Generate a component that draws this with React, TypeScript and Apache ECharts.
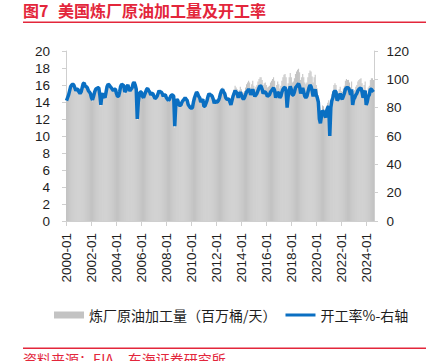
import React, { useEffect, useRef } from "react";
import * as echarts from "echarts";

const TITLE_NUM = "图7";
const TITLE_TEXT = "美国炼厂原油加工量及开工率";
const SOURCE_TEXT = "资料来源：EIA，东海证券研究所";
const SERIES_BAR = "炼厂原油加工量（百万桶/天）";
const SERIES_LINE = "开工率%-右轴";

const FIRST_YEAR = 2000;
const LAST_YEAR = 2024;
const LAST_MONTH = 8;
const TICK_LABELS = [
  "2000-01", "2002-01", "2004-01", "2006-01", "2008-01", "2010-01", "2012-01",
  "2014-01", "2016-01", "2018-01", "2020-01", "2022-01", "2024-01",
];
const LEFT_TICKS = [0, 20, 2];
const RIGHT_TICKS = [0, 120, 20];

// Refinery crude input, million barrels per day (monthly, Jan..Dec)
const CRUDE_INPUT = [
  14.1, 14.4, 14.7, 15.2, 15.7, 15.9, 16.0, 15.9, 15.5, 15.2, 15.4, 15.4, // 2000
  15.0, 14.9, 15.0, 15.5, 16.0, 16.1, 15.7, 15.7, 15.5, 15.2, 15.0, 14.9, // 2001
  14.4, 14.1, 14.5, 15.0, 15.4, 15.5, 15.6, 15.6, 14.7, 13.5, 14.7, 14.9, // 2002
  14.5, 14.4, 15.0, 15.7, 15.9, 15.9, 15.7, 15.5, 15.4, 15.2, 15.4, 15.4, // 2003
  14.9, 14.5, 14.5, 15.0, 15.7, 15.9, 15.9, 15.8, 15.0, 15.2, 15.7, 15.9, // 2004
  15.4, 15.2, 15.4, 15.5, 16.0, 16.2, 15.9, 15.4, 11.9, 13.9, 14.9, 15.0, // 2005
  15.0, 14.5, 14.4, 14.7, 15.1, 15.4, 15.5, 15.2, 15.0, 14.7, 14.9, 14.9, // 2006
  14.5, 14.3, 14.4, 14.5, 14.9, 15.2, 15.0, 15.0, 14.9, 14.5, 14.7, 14.7, // 2007
  14.4, 14.2, 14.0, 14.2, 14.5, 14.7, 14.7, 14.5, 11.0, 13.5, 14.2, 14.0, // 2008
  13.6, 13.5, 13.6, 13.9, 14.1, 14.3, 14.4, 14.3, 14.1, 13.6, 13.4, 13.3, // 2009
  13.2, 13.3, 14.0, 14.5, 14.8, 15.2, 15.0, 14.7, 14.5, 14.0, 14.2, 14.4, // 2010
  13.5, 13.5, 13.9, 14.2, 14.7, 15.1, 14.9, 14.9, 14.7, 14.4, 13.9, 14.3, // 2011
  14.1, 14.1, 14.3, 14.6, 15.2, 15.5, 15.7, 15.4, 15.2, 14.7, 14.5, 14.6, // 2012
  14.6, 14.3, 14.0, 14.6, 15.1, 15.5, 15.9, 15.7, 15.5, 15.0, 15.4, 15.8, // 2013
  15.5, 15.2, 15.1, 15.3, 15.7, 16.1, 16.3, 16.5, 16.3, 15.7, 16.1, 16.5, // 2014
  15.9, 15.5, 15.8, 16.0, 16.4, 16.7, 16.9, 16.9, 16.6, 16.0, 16.2, 16.3, // 2015
  16.0, 15.7, 15.8, 15.9, 16.3, 16.5, 16.7, 16.9, 16.5, 15.6, 16.0, 16.4, // 2016
  16.1, 15.6, 15.9, 16.5, 16.9, 17.2, 17.3, 16.9, 14.8, 16.2, 16.9, 17.4, // 2017
  16.9, 16.3, 16.4, 16.8, 17.3, 17.6, 17.8, 17.9, 17.5, 16.6, 16.9, 17.3, // 2018
  16.9, 16.3, 16.1, 16.3, 16.9, 17.4, 17.7, 17.6, 17.0, 16.3, 16.9, 17.2, // 2019
  16.0, 15.6, 14.8, 12.6, 12.1, 12.9, 13.6, 13.5, 13.1, 12.8, 13.6, 13.9, // 2020
  14.2, 10.6, 14.0, 14.9, 15.3, 16.0, 16.2, 16.0, 15.0, 15.1, 15.5, 15.8, // 2021
  15.3, 15.2, 15.6, 15.9, 16.5, 16.7, 16.6, 16.6, 16.3, 15.7, 16.4, 14.6, // 2022
  15.3, 15.4, 15.8, 16.0, 16.4, 16.6, 16.7, 16.8, 16.2, 15.5, 16.0, 16.4, // 2023
  14.6, 15.0, 15.7, 15.9, 16.6, 16.8, 16.8, 16.6, // 2024
];

// Refinery utilization, percent (monthly, Jan..Dec)
const UTILIZATION = [
  85, 87, 89, 92, 95, 96, 96.5, 96, 94, 92, 93, 93, // 2000
  91, 90, 91, 94, 97, 97.5, 95, 95, 94, 92, 91, 90, // 2001
  87, 85.5, 88, 91, 93, 93.5, 94, 94, 89, 82, 89, 90, // 2002
  88, 87, 91, 95, 96.5, 96, 95, 94, 93, 92, 93, 93, // 2003
  90, 88, 88, 91, 95, 96.5, 96, 95.5, 91, 92, 95, 96, // 2004
  93, 92, 93, 94, 97, 98, 96, 93, 72, 84, 90, 91, // 2005
  91, 88, 87, 89, 91, 93, 93.5, 92, 91, 89, 90, 90, // 2006
  88, 86.5, 87, 88, 90, 92, 91, 91, 90, 88, 89, 89, // 2007
  87, 86, 85, 86, 88, 89, 89, 88, 67, 82, 86, 85, // 2008
  82, 81.5, 82, 84, 85, 86, 87, 86, 85, 82, 81, 80, // 2009
  79.5, 80, 84, 87, 89, 91, 90, 88, 87, 84, 85, 86, // 2010
  81, 81, 83, 85, 88, 90, 89, 89, 88, 86, 83, 85, // 2011
  84, 84, 85, 87, 90, 92, 93, 91, 90, 87, 86, 86, // 2012
  86, 84, 82, 85, 88, 90, 92, 91, 90, 87, 89, 91, // 2013
  89, 87, 86, 87, 89, 91, 92, 93, 92, 89, 91, 93, // 2014
  90, 88, 89, 90, 92, 94, 95.5, 95, 93, 90, 91, 91, // 2015
  90, 88, 88.5, 89, 91, 92, 93, 94, 92, 87, 89, 91, // 2016
  90, 87, 88, 91, 93, 94, 94.5, 92, 80, 88, 92, 95, // 2017
  93, 89, 89, 91, 94, 95, 96, 97, 95, 90, 92, 94, // 2018
  91, 88, 87, 88, 91, 94, 96, 95, 92, 88, 91, 93, // 2019
  89, 87, 84, 72, 69, 74, 78, 77, 75, 73, 78, 80, // 2020
  81, 60, 80, 85, 87, 91, 92, 91, 85, 86, 88, 90, // 2021
  87, 86, 88, 90, 93, 94, 94, 94, 92, 89, 93, 82, // 2022
  86, 87, 89, 90, 92, 93, 93.5, 94, 91, 87, 90, 92, // 2023
  82, 84, 88, 89, 93, 93, 92, 91, // 2024
];

const CATEGORIES: string[] = [];
for (let y = FIRST_YEAR; y <= LAST_YEAR; y++) {
  for (let m = 1; m <= 12; m++) {
    if (y === LAST_YEAR && m > LAST_MONTH) break;
    CATEGORIES.push(`${y}-${m < 10 ? "0" + m : m}`);
  }
}

const RED = "#e3263b";
const BLUE = "#0a6fc2";
const GRAY = "#c3c3c3";
const AXIS = "#cfcfcf";
const TEXT = "#1e1e1e";
const FONT = "'Liberation Sans', Arial, 'Noto Sans CJK SC', sans-serif";
const CJK = "'Noto Sans CJK SC', 'Liberation Sans', sans-serif";

export default function App() {
  const ref = useRef<HTMLDivElement>(null);
  useEffect(() => {
    if (!ref.current) return;
    const chart = echarts.init(ref.current, null, { renderer: "svg" });
    const isTick = (_i: number, v: string) => TICK_LABELS.includes(v);
    chart.setOption({
      animation: false,
      backgroundColor: "#ffffff",
      textStyle: { fontFamily: FONT },
      grid: { left: 66, right: 57, top: 51, bottom: 140, containLabel: false },
      legend: {
        left: 49,
        top: 303,
        itemWidth: 30,
        itemHeight: 7,
        itemGap: 9,
        symbolKeepAspect: true,
        textStyle: { fontSize: 14, color: TEXT, fontFamily: CJK },
        data: [
          { name: SERIES_BAR, icon: "rect" },
          { name: SERIES_LINE, icon: "path://M0,0H30V3H0Z", itemStyle: { color: BLUE } },
        ],
      },
      xAxis: {
        type: "category",
        data: CATEGORIES,
        boundaryGap: true,
        axisLine: { show: true, lineStyle: { color: AXIS, width: 1 } },
        axisTick: {
          show: true,
          alignWithLabel: true,
          interval: isTick,
          length: 5,
          lineStyle: { color: AXIS },
        },
        axisLabel: {
          interval: isTick,
          rotate: 90,
          margin: 12,
          fontSize: 13.5,
          color: TEXT,
          fontFamily: FONT,
        },
        splitLine: { show: false },
      },
      yAxis: [
        {
          type: "value",
          min: LEFT_TICKS[0],
          max: LEFT_TICKS[1],
          interval: LEFT_TICKS[2],
          axisLine: { show: true, lineStyle: { color: AXIS } },
          axisTick: { show: true, length: 4, lineStyle: { color: AXIS } },
          axisLabel: { margin: 16, fontSize: 13.5, color: TEXT, fontFamily: FONT },
          splitLine: { show: false },
        },
        {
          type: "value",
          min: RIGHT_TICKS[0],
          max: RIGHT_TICKS[1],
          interval: RIGHT_TICKS[2],
          position: "right",
          axisLine: { show: true, lineStyle: { color: AXIS } },
          axisTick: { show: true, length: 4, lineStyle: { color: AXIS } },
          axisLabel: { margin: 12.5, fontSize: 13.5, color: TEXT, fontFamily: FONT },
          splitLine: { show: false },
        },
      ],
      series: [
        {
          name: SERIES_BAR,
          type: "bar",
          yAxisIndex: 0,
          data: CRUDE_INPUT,
          barCategoryGap: "0%",
          itemStyle: { color: GRAY },
          z: 1,
        },
        {
          name: SERIES_LINE,
          type: "line",
          yAxisIndex: 1,
          data: UTILIZATION,
          symbol: "none",
          showSymbol: false,
          lineStyle: { color: BLUE, width: 3.5 },
          itemStyle: { color: BLUE },
          z: 3,
        },
      ],
      graphic: [
        {
          type: "text",
          left: 23,
          top: 2,
          style: { text: TITLE_NUM, fill: RED, font: `bold 16px ${CJK}` },
        },
        {
          type: "text",
          left: 58,
          top: 2,
          style: { text: TITLE_TEXT, fill: RED, font: `bold 16px ${CJK}` },
        },
        {
          type: "rect",
          shape: { x: 23, y: 21.5, width: 403, height: 1.6 },
          style: { fill: RED },
        },
        {
          type: "rect",
          shape: { x: 23, y: 347.5, width: 403, height: 1.4 },
          style: { fill: RED },
        },
        {
          type: "text",
          left: 23,
          top: 352,
          style: { text: SOURCE_TEXT, fill: RED, font: `14px ${CJK}` },
        },
      ],
    });
    return () => chart.dispose();
  }, []);
  return (
    <div
      ref={ref}
      style={{ position: "absolute", left: 0, top: 0, width: 431, height: 361 }}
    />
  );
}
